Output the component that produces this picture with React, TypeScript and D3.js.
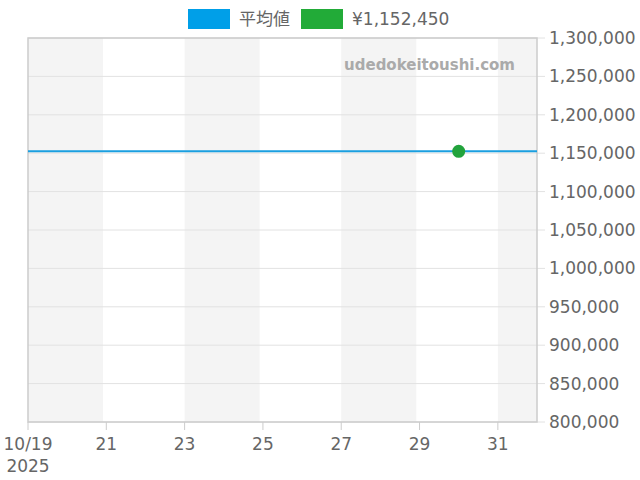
import * as d3 from 'd3'

const startDate = new Date(2025, 9, 19)
const endDate = new Date(2025, 10, 1)
const yTicks = [800000, 850000, 900000, 950000, 1000000, 1050000, 1100000, 1150000, 1200000, 1250000, 1300000]
const xTickDays = [19, 21, 23, 25, 27, 29, 31]
const bandStartDays = [19, 23, 27, 31]
const averagePrice = 1152450
const pointDate = new Date(2025, 9, 30)
const pointPrice = 1152450
const legendLabels = ['平均値', '¥1,152,450']

export default function App() {
  const W = 640
  const H = 480
  const margin = { top: 38, right: 103, bottom: 58, left: 28 }
  const iw = W - margin.left - margin.right
  const ih = H - margin.top - margin.bottom
  const font = 'DejaVu Sans, "Noto Sans CJK JP", sans-serif'

  const x = d3.scaleTime().domain([startDate, endDate]).range([0, iw])
  const y = d3.scaleLinear().domain([800000, 1300000]).range([ih, 0])
  const fmt = d3.format(',')
  const day = (d: number) => new Date(2025, 9, d)

  return (
    <svg width={W} height={H} style={{ position: 'absolute', left: 0, top: 0, fontFamily: font }}>
      {/* legend */}
      <rect x={188} y={9} width={42} height={20} fill="#009fe8" />
      <text x={239} y={19} dominantBaseline="central" fontSize={17} fill="#666">{legendLabels[0]}</text>
      <rect x={301} y={9} width={42} height={20} fill="#22ab38" />
      <text x={352} y={19} dominantBaseline="central" fontSize={17} fill="#666">{legendLabels[1]}</text>

      <g transform={`translate(${margin.left},${margin.top})`}>
        {/* alternating bands */}
        {bandStartDays.map(d => {
          const x0 = x(day(d))
          const x1 = Math.min(x(d3.timeHour.offset(day(d), 46)), iw)
          return <rect key={d} x={x0} y={0} width={x1 - x0} height={ih} fill="#f4f4f4" />
        })}

        {/* grid */}
        {yTicks.map(t => (
          <g key={t}>
            <line x1={0} x2={iw + 8} y1={y(t)} y2={y(t)} stroke="#e2e2e2" strokeWidth={1} />
            <text x={iw + 12} y={y(t)} dominantBaseline="central" fontSize={17} fill="#666">{fmt(t)}</text>
          </g>
        ))}

        {/* frame */}
        <rect x={0} y={0} width={iw} height={ih} fill="none" stroke="#cccccc" strokeWidth={1.5} />

        {/* x ticks */}
        {xTickDays.map(d => (
          <g key={d} transform={`translate(${x(day(d))},${ih})`}>
            <line y1={0} y2={8} stroke="#cccccc" strokeWidth={1} />
            <text y={28} textAnchor="middle" fontSize={17} fill="#666">{d === 19 ? '10/19' : d}</text>
            {d === 19 && <text y={50} textAnchor="middle" fontSize={17} fill="#666">2025</text>}
          </g>
        ))}

        {/* watermark */}
        <text x={iw - 22} y={32} textAnchor="end" fontSize={15} fontWeight="bold" fill="#aaaaaa">udedokeitoushi.com</text>

        {/* average line */}
        <line x1={0} x2={iw} y1={y(averagePrice)} y2={y(averagePrice)} stroke="#1a9fe0" strokeWidth={2} />

        {/* price point */}
        <circle cx={x(pointDate)} cy={y(pointPrice)} r={6.5} fill="#22a33c" />
      </g>
    </svg>
  )
}
